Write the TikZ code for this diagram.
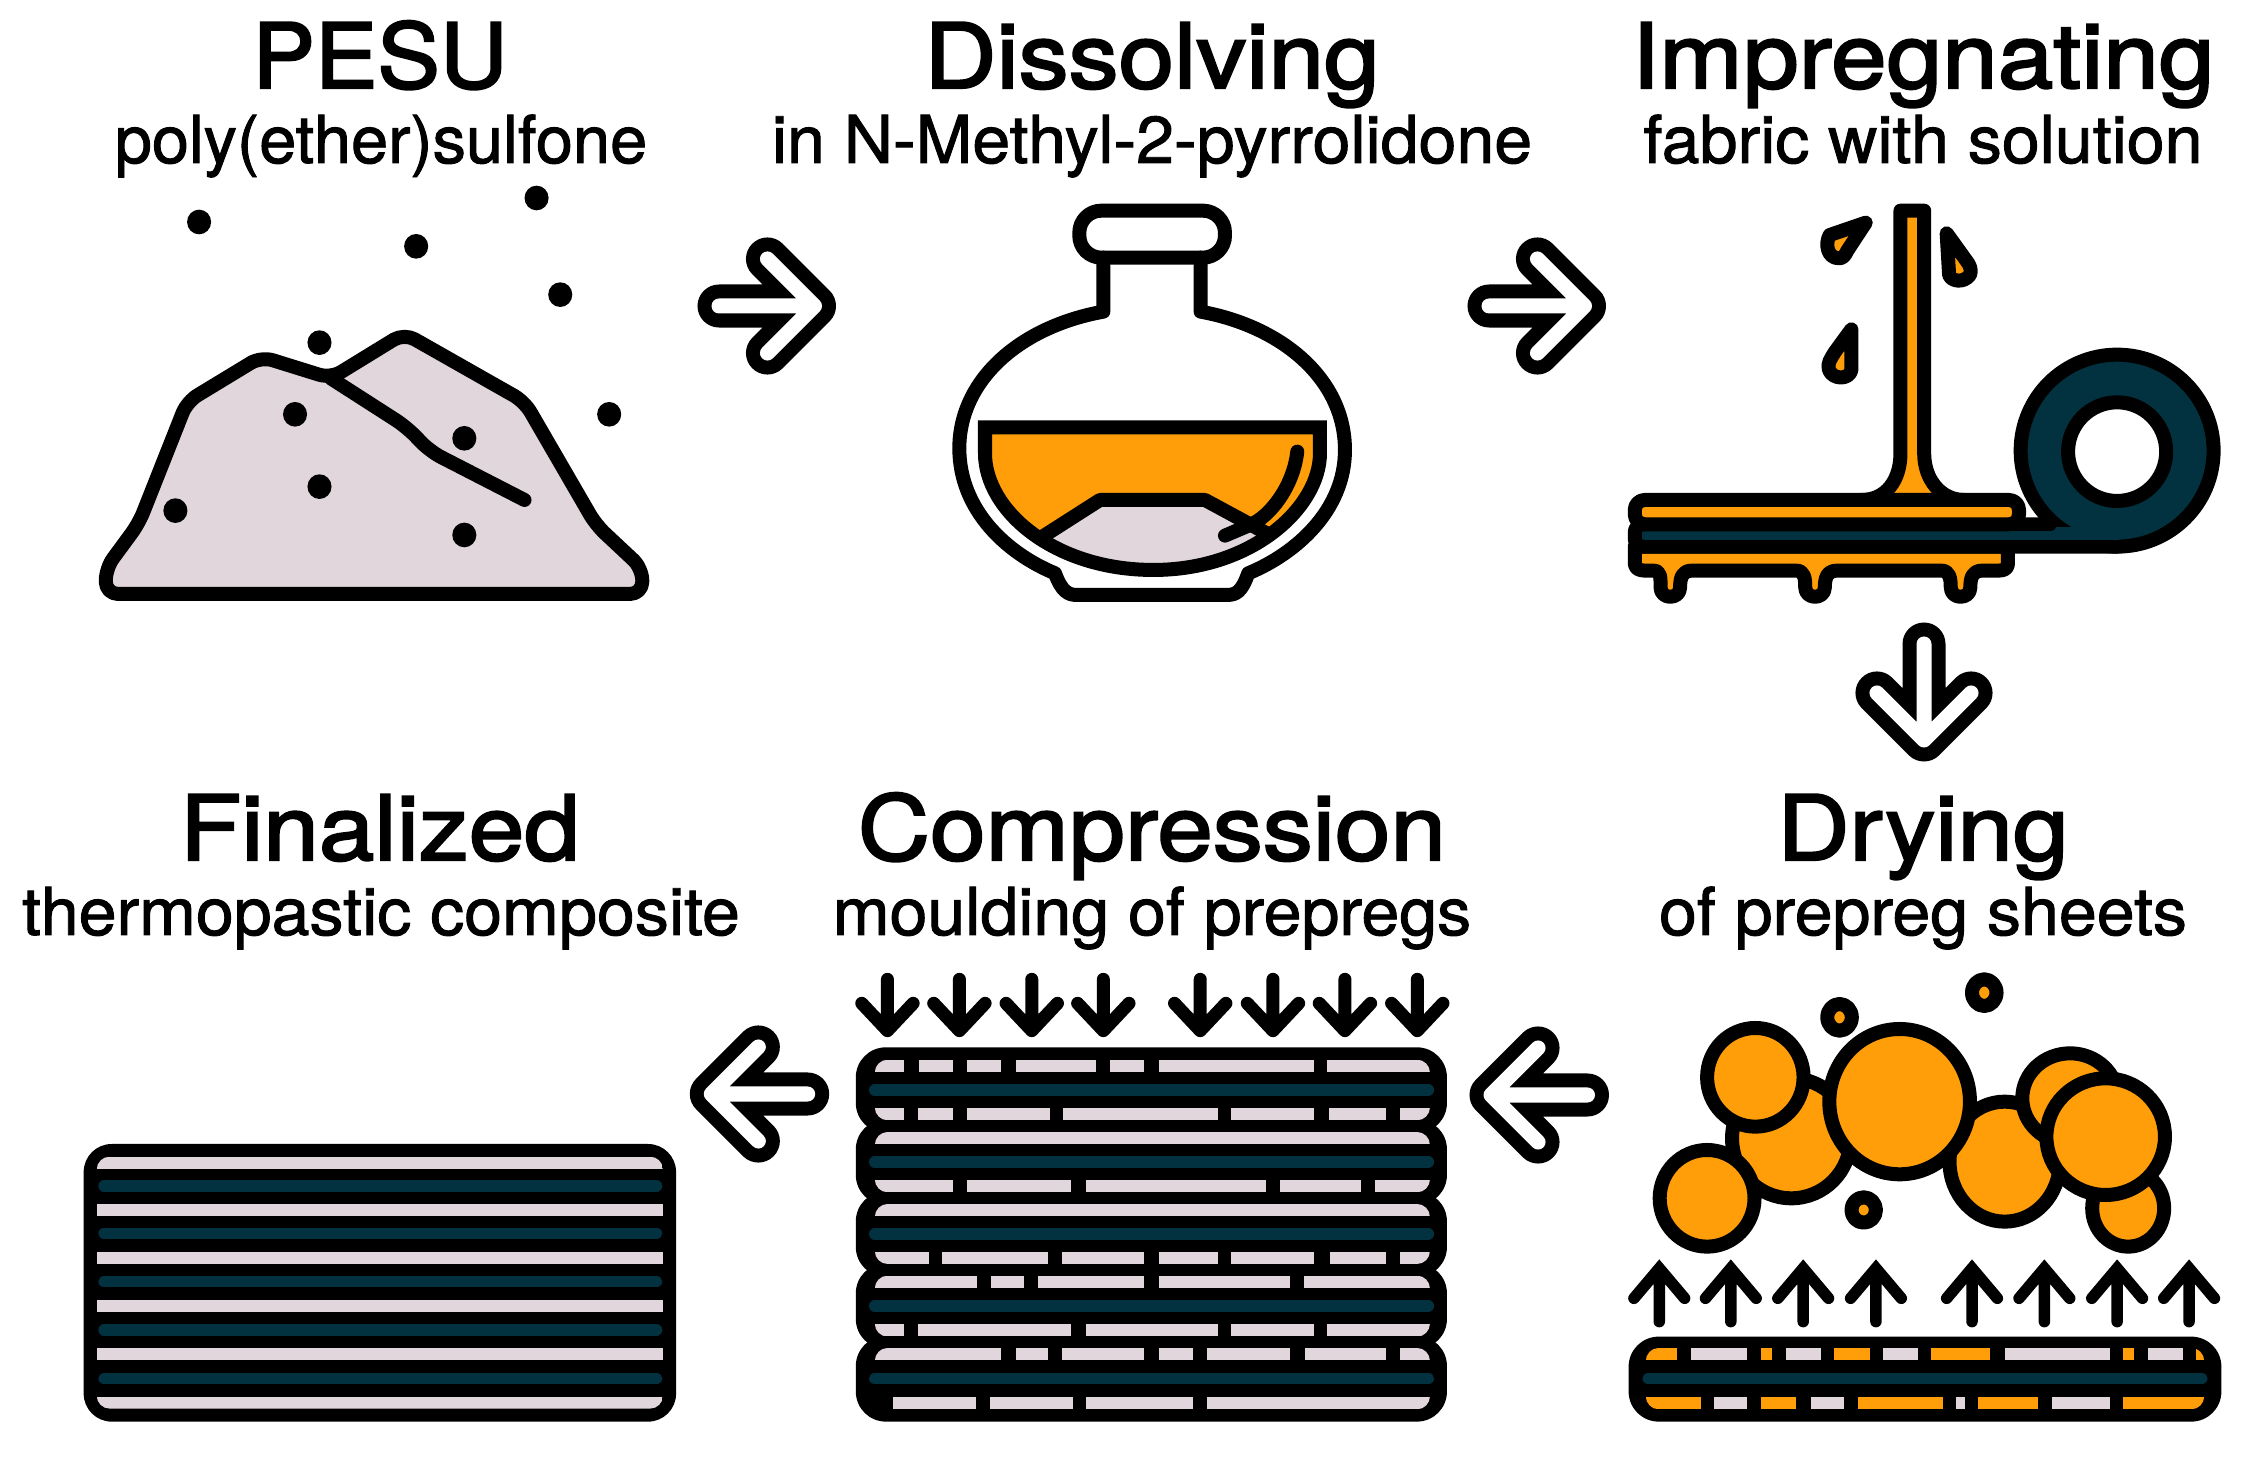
\documentclass[tikz,border=0pt]{standalone}
\usepackage{fontspec}
\setmainfont{TeX Gyre Heros}
\newfontfamily\titlefont[FakeStretch=1.11,FakeBold=2.4]{TeX Gyre Heros}
\newfontfamily\shorttitlefont[FakeStretch=1.04,FakeBold=2.4]{TeX Gyre Heros}
\newfontfamily\subfont[FakeStretch=1.03,FakeBold=1.4]{TeX Gyre Heros}
\newfontfamily\shortsubfont[FakeStretch=1.01,FakeBold=1.4]{TeX Gyre Heros}
\usetikzlibrary{calc}
\definecolor{palegrey}{HTML}{E2D6DD}
\definecolor{petrol}{HTML}{02323F}
\definecolor{amber}{HTML}{FF9E08}
\tikzset{
  ink/.style={draw=black,line width=.14cm,line join=round,line cap=round},
  titletext/.style={anchor=base,inner sep=0pt,font=\titlefont\fontsize{25.6pt}{30pt}\selectfont},
  subtext/.style={anchor=base,inner sep=0pt,font=\subfont\fontsize{18.8pt}{22pt}\selectfont},
  paleline/.style={draw=palegrey,line width=.118cm},
  amberline/.style={draw=amber,line width=.118cm},
  petrolline/.style={draw=petrol,line width=.115cm,line cap=round},
  arrowouter/.style={draw=black,line width=.43cm,line cap=round,line join=round},
  arrowinner/.style={draw=white,line width=.15cm,line cap=round,line join=round},
  pressarrow/.style={draw=black,line width=.13cm,line cap=round,line join=round},
  heatarrow/.style={draw=black,line width=.115cm,line cap=round,line join=miter},
}
\newcommand{\psegs}[2]{\foreach \ga/\gb in {#2}{\draw[paleline] (\ga,#1)--(\gb,#1);}}
\newcommand{\asegs}[2]{\foreach \ga/\gb in {#2}{\draw[amberline] (\ga,#1)--(\gb,#1);}}
\newcommand{\procarrow}[2]{\foreach \sty in {arrowouter,arrowinner}{%
  \draw[\sty] (#1) -- (#2) ($(#2)!0.665cm!45:(#1)$) -- (#2) -- ($(#2)!0.665cm!-45:(#1)$);}}
\begin{document}
\begin{tikzpicture}[x=.01cm,y=-.01cm]
\useasboundingbox (0,0) rectangle (2241,1473);
% ---------- texts
\node[titletext,font=\shorttitlefont\fontsize{25.6pt}{30pt}\selectfont] (t1) at (380,88) {PESU};
\node[subtext,font=\shortsubfont\fontsize{18.8pt}{22pt}\selectfont] (s1) at (381,163) {poly(ether)sulfone};
\node[titletext] (t2) at (1152,88) {Dissolving};
\node[subtext] (s2) at (1152,163) {in N-Methyl-2-pyrrolidone};
\node[titletext] (t3) at (1923,88) {Impregnating};
\node[subtext] (s3) at (1923,163) {fabric with solution};
\node[titletext] (t4) at (380,860) {Finalized};
\node[subtext] (s4) at (381,935) {thermopastic composite};
\node[titletext] (t5) at (1152,860) {Compression};
\node[subtext] (s5) at (1152,935) {moulding of prepregs};
\node[titletext] (t6) at (1923,860) {Drying};
\node[subtext] (s6) at (1923,935) {of prepreg sheets};
% ---------- process arrows
\coordinate (a1s) at (719,306); \coordinate (a1e) at (814.5,306);
\coordinate (a2s) at (1489,306); \coordinate (a2e) at (1584.5,306);
\coordinate (a3s) at (1924,644); \coordinate (a3e) at (1924,740);
\coordinate (a4s) at (1587.5,1095); \coordinate (a4e) at (1491,1095);
\coordinate (a5s) at (807.7,1094); \coordinate (a5e) at (711.3,1094);
\procarrow{a1s}{a1e}
\procarrow{a2s}{a2e}
\procarrow{a3s}{a3e}
\procarrow{a4s}{a4e}
\procarrow{a5s}{a5e}
% ---------- powder pile
\begin{scope}[shift={(90,170)},xscale=.3762,yscale=.3333]
\draw[ink,fill=palegrey,rounded corners=.12cm] (42,1272) -- (42,1195) -- (130,1060) -- (258,695) -- (455,560) -- (640,625) -- (835,490) -- (1155,695) -- (1345,1065) -- (1468,1195) -- (1468,1272) -- cycle;
\draw[ink,rounded corners=.12cm] (640,625) -- (840,770) -- (905,845) -- (1155,990);
\foreach \dx/\dy in {290/156,867/229,1187/84,1250/374,610/518,1380/733,545/733,995/805,610/950,227/1022,995/1095}
  \fill[black] (\dx,\dy) ellipse [x radius=32,y radius=37];
\end{scope}
% ---------- flask
\begin{scope}[shift={(920,190)},scale=.3333]
\draw[ink,rounded corners=.22cm] (478,62) rectangle (915,203);
\draw[ink] (550,203) -- (550,365) .. controls (300,410) and (118,570) .. (118,775) .. controls (118,960) and (260,1090) .. (405,1150) .. controls (425,1205) and (445,1215) .. (470,1215) -- (920,1215) .. controls (950,1215) and (965,1205) .. (985,1150) .. controls (1130,1090) and (1275,960) .. (1275,780) .. controls (1275,570) and (1090,410) .. (842,365) -- (842,203);
\fill[amber] (195,712) -- (195,790) .. controls (195,960) and (400,1140) .. (700,1140) .. controls (1000,1140) and (1200,950) .. (1200,790) -- (1200,712) -- cycle;
\begin{scope}
\clip (195,712) -- (195,790) .. controls (195,960) and (400,1140) .. (700,1140) .. controls (1000,1140) and (1200,950) .. (1200,790) -- (1200,712) -- cycle;
\fill[palegrey] (360,1045) -- (540,930) -- (855,930) -- (1040,1030) -- (1040,1200) -- (360,1200) -- cycle;
\end{scope}
\draw[ink] (360,1045) -- (540,930) -- (855,930) -- (1040,1030);
\draw[ink] (1132,785) .. controls (1120,890) and (1050,980) .. (990,1005) -- (915,1037);
\draw[ink,line join=miter] (195,712) -- (195,790) .. controls (195,960) and (400,1140) .. (700,1140) .. controls (1000,1140) and (1200,950) .. (1200,790) -- (1200,712) -- cycle;
\end{scope}
% ---------- impregnating
\begin{scope}[shift={(1600,180)},xscale=.4088,yscale=.3333]
\draw[ink,fill=petrol] (1265,812) ellipse [x radius=236,y radius=288];
\draw[ink,fill=white] (1265,815) ellipse [x radius=120,y radius=148];
\draw[ink,fill=amber] (85,1100) -- (85,1150) .. controls (85,1165) and (95,1172) .. (110,1172) -- (130,1172) .. controls (150,1172) and (148,1195) .. (148,1222) .. controls (148,1260) and (196,1260) .. (196,1222) .. controls (196,1195) and (200,1172) .. (225,1172) -- (480,1172) .. controls (500,1172) and (502,1195) .. (502,1222) .. controls (502,1260) and (550,1260) .. (550,1222) .. controls (550,1195) and (555,1172) .. (580,1172) -- (835,1172) .. controls (855,1172) and (858,1195) .. (858,1222) .. controls (858,1260) and (906,1260) .. (906,1222) .. controls (906,1195) and (910,1172) .. (935,1172) -- (975,1172) .. controls (990,1172) and (998,1165) .. (998,1150) -- (998,1100) -- cycle;
\fill[petrol] (95,1040) rectangle (1265,1095);
\draw[ink,rounded corners=.08cm] (1100,1033) -- (85,1033) -- (85,1100) -- (1265,1100);
\fill[petrol] (110,1052) rectangle (1270,1081);
\filldraw[ink,fill=amber] (640,960) .. controls (700,960) and (735,900) .. (735,820) -- (735,92) -- (793,92) -- (793,820) .. controls (793,900) and (835,960) .. (890,960);
\draw[ink,fill=amber,rounded corners=.1cm] (85,960) rectangle (1025,1033);
\draw[ink,fill=amber] (650,128) -- (562,165) .. controls (550,190) and (555,235) .. (585,235) .. controls (595,235) and (600,225) .. (605,212) -- cycle;
\draw[ink,fill=amber] (848,160) -- (854,285) .. controls (860,305) and (890,310) .. (905,285) .. controls (910,270) and (905,255) .. (895,240) -- cycle;
\draw[ink,fill=amber] (615,448) -- (615,570) .. controls (610,600) and (570,600) .. (560,570) .. controls (555,550) and (565,535) .. (575,515) -- cycle;
\end{scope}
% ---------- final composite
\begin{scope}[shift={(60,1120)},xscale=.408,yscale=.3333]
\fill[black,rounded corners=.28cm] (58,72) rectangle (1510,905);
\begin{scope}
\clip[rounded corners=.13cm] (90,110) rectangle (1478,866);
\foreach \py in {128,270,413,558,703,848} \draw[paleline] (90,\py) -- (1478,\py);
\end{scope}
\foreach \py in {198,340,485,630,776} \draw[petrolline] (108,\py) -- (1462,\py);
\end{scope}
% ---------- compression moulding
\begin{scope}[shift={(840,960)},xscale=.3954,yscale=.3333]
\foreach \ax in {120,302,485,666,911,1095,1277,1460}
  \draw[pressarrow] (\ax,58) -- (\ax,212) (\ax-65,130) -- (\ax,212) -- (\ax+65,130);
\foreach \ty in {390,606,822,1038,1256}
  \fill[black,rounded corners=.3cm] (40,\ty-128) rectangle (1535,\ty+129);
\foreach \ty in {390,606,822,1038,1256}
  \draw[petrolline] (88,\ty) -- (1488,\ty);
\begin{scope}
\clip[rounded corners=.13cm] (88,299) rectangle (1492,481);
\psegs{317}{88/162,200/285,320/408,445/648,683/770,808/1198,1232/1492}
\psegs{462}{88/162,198/285,320/530,565/955,990/1200,1237/1380,1415/1492}
\end{scope}
\begin{scope}
\clip[rounded corners=.13cm] (88,516) rectangle (1492,697);
\psegs{535}{88/1492}
\psegs{678}{88/285,320/585,622/1078,1113/1318,1353/1492}
\end{scope}
\begin{scope}
\clip[rounded corners=.13cm] (88,732) rectangle (1492,912);
\psegs{751}{88/1492}
\psegs{893}{88/224,258/525,562/770,806/955,990/1200,1238/1380,1415/1492}
\end{scope}
\begin{scope}
\clip[rounded corners=.13cm] (88,947) rectangle (1492,1130);
\psegs{966}{88/347,382/466,502/770,806/1138,1173/1492}
\psegs{1111}{88/162,198/585,622/955,990/1198,1232/1492}
\end{scope}
\begin{scope}
\clip[rounded corners=.13cm] (88,1164) rectangle (1492,1348);
\psegs{1183}{88/408,445/525,562/770,806/893,928/1138,1175/1380,1415/1492}
\psegs{1329}{135/345,380/590,623/893,928/1492}
\end{scope}
\end{scope}
% ---------- drying
\begin{scope}[shift={(1600,960)},xscale=.4088,yscale=.3333]
\foreach \bx/\by/\brx/\bry in {468/535/145/180,262/715/116/145,380/352/118/148,990/605/135/180,1150/415/117/135,1292/745/88/115,1237/530/145/175,733/425/172/218,586/172/30/40,940/98/30/40,645/750/30/38}
  \draw[ink,fill=amber] (\bx,\by) ellipse [x radius=\brx,y radius=\bry];
\foreach \ax in {145,320,497,675,910,1087,1265,1441}
  \draw[heatarrow] (\ax,1085) -- (\ax,928) (\ax-62,1015) -- (\ax,925) -- (\ax+62,1015);
\fill[black,rounded corners=.3cm] (70,1130) rectangle (1520,1385);
\draw[petrolline] (118,1256) -- (1472,1256);
\begin{scope}
\clip[rounded corners=.13cm] (112,1164) rectangle (1478,1348);
\asegs{1183}{112/188,393/420,572/660,810/955,1280/1307,1457/1478}
\psegs{1183}{222/360,455/540,692/778,990/1248,1340/1425}
\asegs{1329}{112/247,393/480,632/838,925/1072,1280/1478}
\psegs{1329}{280/360,515/598,870/892,1105/1248}
\end{scope}
\end{scope}
\end{tikzpicture}
\end{document}
